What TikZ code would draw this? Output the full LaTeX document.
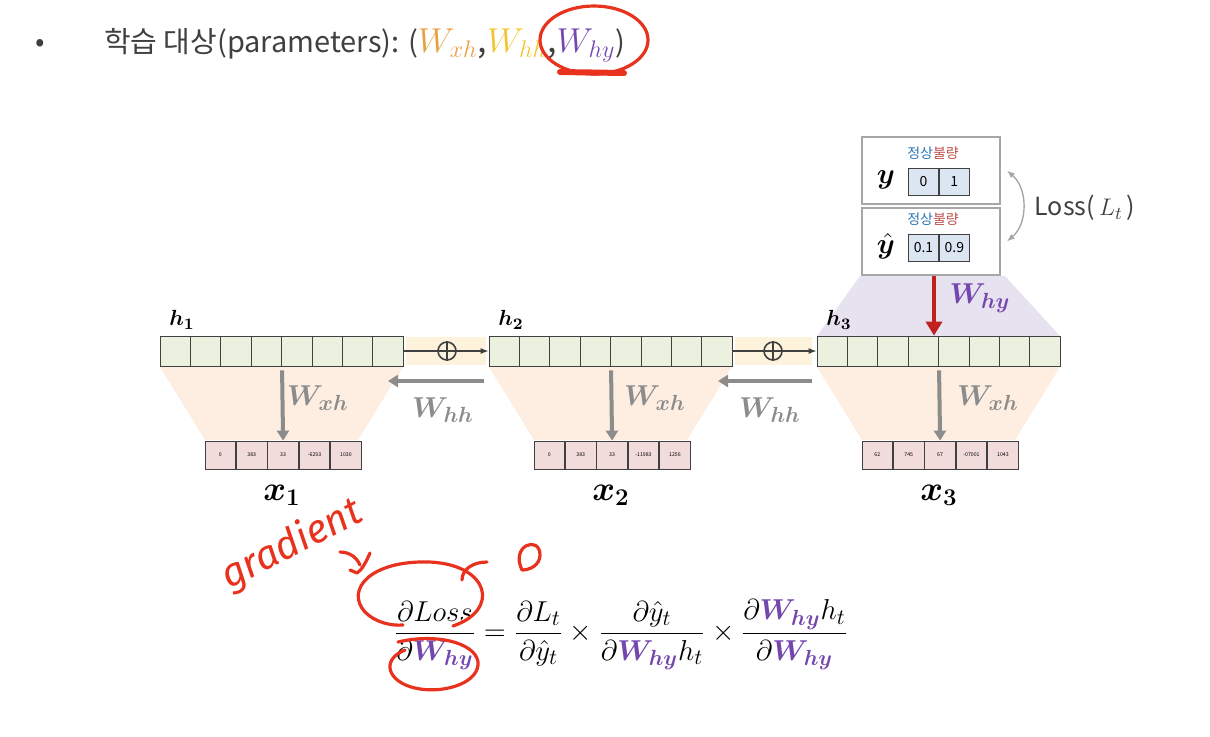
\documentclass[tikz,border=0pt]{standalone}
\usepackage{amsmath,bm}
\usepackage{fontspec}
\setmainfont{Noto Sans CJK KR}
\newfontfamily\handfont{Fira Sans}
\usetikzlibrary{arrows.meta,calc,positioning}
\definecolor{ink}{HTML}{404040}
\definecolor{hgreen}{HTML}{EBF1DE}
\definecolor{xpink}{HTML}{F2DCDB}
\definecolor{peach}{HTML}{FDEEE1}
\definecolor{lav}{HTML}{E7E2EF}
\definecolor{band}{HTML}{FDF3DC}
\definecolor{wgray}{HTML}{8C8C8C}
\definecolor{darkred}{HTML}{C0201F}
\definecolor{purp}{HTML}{7447AE}
\definecolor{worange}{HTML}{E8A040}
\definecolor{wyellow}{HTML}{F2C530}
\definecolor{kblue}{HTML}{2E75B6}
\definecolor{kred}{HTML}{C0504D}
\definecolor{ycell}{HTML}{DCE6F2}
\definecolor{pen}{HTML}{E8321E}
\newcommand\whyb{{\color{purp}\bm{W}_{\bm{hy}}}}
\tikzset{
  hcell/.style={draw=ink,fill=hgreen,minimum width=15.2pt,minimum height=15pt,inner sep=0pt},
  xcell/.style={draw=ink,fill=xpink,minimum width=15.3pt,minimum height=14pt,inner sep=0pt,font=\fontsize{2.6}{3}\selectfont},
  ycellbox/.style={draw=ink,fill=ycell,minimum width=15pt,minimum height=13.5pt,inner sep=0pt,font=\fontsize{7}{8}\selectfont},
  outbox/.style={draw=gray!70,fill=white,line width=0.8pt,minimum width=69pt,minimum height=33.5pt},
  wlab/.style={text=wgray,font=\fontsize{15}{17}\selectfont},
  warrow/.style={-{Triangle[length=5pt,width=6pt]},wgray,line width=2pt},
  penline/.style={pen,line width=1.6pt,line cap=round,line join=round}
}
\begin{document}
\begin{tikzpicture}[x=0.5pt,y=-0.5pt,>=Latex]
\useasboundingbox (0,0) rectangle (1210,736);
% shaded bands
\fill[lav] (860,276)--(1005,276)--(1060,336)--(817,336)--cycle;
\foreach \hx/\xx in {160/205,489/534,817/862}
  \fill[peach] (\hx,367)--(\hx+243,367)--(\xx+153,440)--(\xx,440)--cycle;
\fill[band] (406,337) rectangle (486,365);
\fill[band] (735,337) rectangle (812,365);
% title line
\node[text=ink] (bullet) at (40,45) {\fontsize{14}{16}\selectfont •};
\node[anchor=west,text=ink,font=\fontsize{14.5}{17}\selectfont] (title) at (97,45) {학습 대상(parameters): ({\fontsize{17}{20}\selectfont$\color{worange}W_{xh}$,$\color{wyellow}W_{hh}$,$\color{purp}W_{hy}$})};
% hidden states
\foreach \s/\hx in {1/160,2/489,3/817}{
  \foreach \i in {0,...,7} \node[hcell] (h\s c\i) at (\hx+15.2+30.4*\i,351) {};
  \node[font=\fontsize{11}{13}\selectfont] (hl\s) at (\hx+22,320) {$\bm{h}_{\bm{\s}}$};
}
% inputs
\foreach \s/\xx/\a/\b/\c/\d/\e in {1/205/0/383/33/-6293/1030,2/534/0/383/33/-11983/1256,3/862/62/745/67/-07001/1043}{
  \node[xcell] (x\s c0) at (\xx+15.3,455) {\a};
  \node[xcell,right=0pt of x\s c0] (x\s c1) {\b};
  \node[xcell,right=0pt of x\s c1] (x\s c2) {\c};
  \node[xcell,right=0pt of x\s c2] (x\s c3) {\d};
  \node[xcell,right=0pt of x\s c3] (x\s c4) {\e};
  \node[font=\fontsize{17}{19}\selectfont] (xl\s) at (\xx+77,495) {$\bm{x}_{\bm{\s}}$};
  \draw[warrow,shorten <=2pt] (h\s c3.south east) -- (x\s c2.north);
}
\node[wlab] (wxh1) at (318,398) {$\bm{W}_{\bm{xh}}$};
\node[wlab] (wxh2) at (655,398) {$\bm{W}_{\bm{xh}}$};
\node[wlab] (wxh3) at (988,398) {$\bm{W}_{\bm{xh}}$};
% recurrence
\node[circle,draw=ink,inner sep=0pt,minimum size=9pt,line width=0.8pt] (p1) at (447,351) {};
\node[circle,draw=ink,inner sep=0pt,minimum size=9pt,line width=0.8pt] (p2) at (773,351) {};
\draw[ink,line width=0.8pt] (p1.north)--(p1.south) (p2.north)--(p2.south);
\draw[-{Latex[length=4pt]},ink,line width=0.6pt] (h1c7.east) -- (h2c0.west);
\draw[-{Latex[length=4pt]},ink,line width=0.6pt] (h2c7.east) -- (h3c0.west);
\coordinate (hh1a) at (484,381); \coordinate (hh1b) at (388,381);
\coordinate (hh2a) at (812,381); \coordinate (hh2b) at (718,381);
\draw[warrow] (hh1a) -- (hh1b);
\draw[warrow] (hh2a) -- (hh2b);
\node[wlab] (whh1) at (443,410) {$\bm{W}_{\bm{hh}}$};
\node[wlab] (whh2) at (770,410) {$\bm{W}_{\bm{hh}}$};
% output and target
\node[outbox] (ybox) at (931,170.5) {};
\node[outbox] (yhbox) at (931,241.5) {};
\node[font=\fontsize{7}{8}\selectfont] (ykr) at (933,153) {\textcolor{kblue}{정상}\textcolor{kred}{불량}};
\node[font=\fontsize{7}{8}\selectfont] (yhkr) at (933,219) {\textcolor{kblue}{정상}\textcolor{kred}{불량}};
\node[ycellbox] (yc0) at (923.5,181.5) {0};
\node[ycellbox,right=0pt of yc0] (yc1) {1};
\node[ycellbox] (yhc0) at (923.5,247.5) {0.1};
\node[ycellbox,right=0pt of yhc0] (yhc1) {0.9};
\node[font=\fontsize{15}{17}\selectfont] (ylab) at (886,180) {$\bm{y}$};
\node[font=\fontsize{15}{17}\selectfont] (yhlab) at (886,246) {$\bm{\hat{y}}$};
\coordinate (la) at ($(ybox.east)+(6,0)$);
\coordinate (lb) at ($(yhbox.east)+(6,0)$);
\draw[{Latex[length=4pt]}-{Latex[length=4pt]},gray!70,line width=0.7pt] (la) to[bend left=50] (lb);
\node[font=\fontsize{12.5}{15}\selectfont,text=ink] (loss) at (1085,208) {Loss(\,$L_t$\,)};
\draw[-{Triangle[length=7pt,width=8pt]},darkred,line width=2pt] ([xshift=1.5pt]yhbox.south) -- ([xshift=1.5pt]yhbox.south |- h3c0.north);
\node[font=\fontsize{15}{17}\selectfont] (whylab) at (980,298) {$\whyb$};
% chain rule
\node (chain) at (621,635) {\fontsize{15.5}{19}\selectfont $\dfrac{\partial Loss}{\partial \whyb} = \dfrac{\partial L_t}{\partial \hat{y}_t}\times\dfrac{\partial\hat{y}_t}{\partial \whyb h_t}\times\dfrac{\partial \whyb h_t}{\partial \whyb}$};
% pen marks
\draw[penline] (594,40) ellipse [x radius=54,y radius=34];
\draw[penline,line width=3pt] (560,72) -- (624,73);
\node[text=pen,rotate=27,font=\handfont\itshape\fontsize{20}{24}\selectfont] (gradtxt) at (292,545) {gradient};
\draw[penline] (340,552) .. controls (350,552) and (357,558) .. (360,565);
\draw[penline] (370,553) .. controls (366,562) and (362,570) .. (357,573) -- (350,570);
\draw[penline] (453,626) .. controls (500,610) and (490,565) .. (430,562) .. controls (370,560) and (345,590) .. (365,612) .. controls (375,622) and (390,626) .. (403,625);
\draw[penline] (462,580) .. controls (462,570) and (472,562) .. (487,562);
\draw[penline] (398,642) .. controls (440,632) and (480,645) .. (478,665) .. controls (476,685) and (440,694) .. (415,688) .. controls (388,682) and (380,660) .. (405,650);
\draw[penline] (522,570) .. controls (510,545) and (540,535) .. (540,555) .. controls (540,565) and (530,570) .. (522,570);
\end{tikzpicture}
\end{document}
